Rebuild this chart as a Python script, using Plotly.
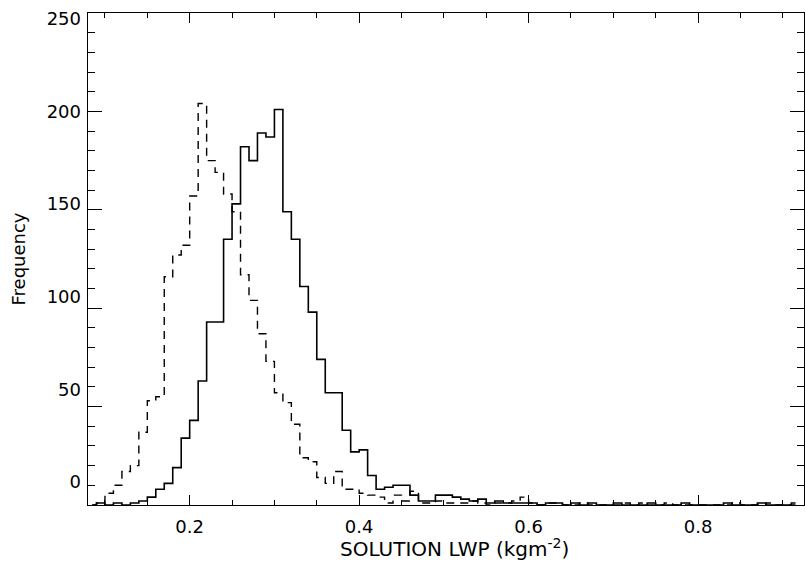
import plotly.graph_objects as go

# bin starts (width 0.01) from 0.08 to 0.91
bin_start = [round(0.08 + 0.01 * i, 2) for i in range(84)]
bin_width = 0.01

solid_counts = [
    0, 1, 0, 1, 0, 1, 2, 4, 8, 11,          # 0.08-0.17
    19, 34, 43, 63, 93, 93, 135, 153, 182, 175,  # 0.18-0.27
    189, 187, 201, 149, 135, 111, 98, 74, 57, 57,  # 0.28-0.37
    38, 27, 28, 15, 8, 9, 10, 10, 5, 2,      # 0.38-0.47
    2, 5, 5, 4, 3, 2, 3, 1, 2, 1,            # 0.48-0.57
    1, 1, 1, 0, 1, 1, 0, 1, 0, 1,            # 0.58-0.67
    0, 0, 1, 0, 0, 0, 1, 0, 0, 0,            # 0.68-0.77
    1, 0, 0, 0, 0, 1, 0, 0, 0, 1,            # 0.78-0.87
    0, 0, 0, 1,                              # 0.88-0.91
]

dashed_counts = [
    0, 1, 6, 10, 17, 20, 37, 53, 55, 116,    # 0.08-0.17
    127, 132, 157, 204, 175, 169, 158, 149, 117, 104,  # 0.18-0.27
    87, 73, 57, 52, 41, 24, 22, 14, 11, 17,  # 0.28-0.37
    8, 8, 6, 5, 4, 1, 5, 2, 7, 1,            # 0.38-0.47
    1, 2, 1, 1, 1, 2, 1, 0, 1, 1,            # 0.48-0.57
    2, 4, 1, 0, 1, 1, 0, 0, 1, 0,            # 0.58-0.67
    0, 0, 0, 1, 0, 1, 0, 0, 1, 0,            # 0.68-0.77
    0, 0, 0, 0, 0, 0, 1, 0, 0, 0,            # 0.78-0.87
    1, 0, 0, 0,                              # 0.88-0.91
]

y_tick_values = [0, 50, 100, 150, 200, 250]
x_title = "SOLUTION LWP (kgm<sup>-2</sup>)"
y_title = "Frequency"

centers = [b + bin_width / 2 for b in bin_start]

font = "DejaVu Sans, Liberation Sans, Arial, sans-serif"

fig = go.Figure()
fig.add_trace(go.Scatter(
    x=centers, y=dashed_counts, mode="lines", line_shape="hvh",
    line=dict(color="black", width=1.4, dash="8px,6px"), showlegend=False,
))
fig.add_trace(go.Scatter(
    x=centers, y=solid_counts, mode="lines", line_shape="hvh",
    line=dict(color="black", width=1.6), showlegend=False,
))
# invisible anchor trace so the label-only overlay axis is drawn
fig.add_trace(go.Scatter(
    x=[centers[0]], y=[0], yaxis="y2", mode="markers",
    marker=dict(opacity=0), hoverinfo="skip", showlegend=False,
))

fig.update_layout(
    width=805, height=563,
    margin=dict(l=88, r=1, t=13, b=58),
    paper_bgcolor="white", plot_bgcolor="white",
    font=dict(family=font, size=18, color="black"),
    xaxis=dict(
        range=[0.08, 0.925], showgrid=False, zeroline=False, automargin=False,
        showline=True, linecolor="black", linewidth=1, mirror="ticks",
        ticks="inside", ticklen=10, tickwidth=1, tickcolor="black",
        tick0=0.2, dtick=0.2, tickformat=".1f",
        minor=dict(ticks="inside", ticklen=5, dtick=0.05, tick0=0.0, tickcolor="black", showgrid=False),
        ticklabelstandoff=5,
    ),
    yaxis=dict(
        range=[0, 250], showgrid=False, zeroline=False, automargin=False,
        showline=True, linecolor="black", linewidth=1, mirror="ticks",
        ticks="inside", ticklen=14, tickwidth=1, tickcolor="black",
        tick0=0, dtick=50, showticklabels=False,
        minor=dict(ticks="inside", ticklen=7, dtick=10, tickcolor="black", showgrid=False),
        title=dict(text=y_title, font=dict(size=18), standoff=56),
    ),
    # labels in the reference sit on a slightly compressed scale relative to the ticks
    yaxis2=dict(
        overlaying="y", side="left", range=[-12.4, 252.96],
        showgrid=False, zeroline=False, showline=False, automargin=False,
        ticks="", tickmode="array", tickvals=y_tick_values,
        ticklabelstandoff=6,
    ),
    annotations=[dict(
        text=x_title, xref="paper", yref="paper", x=0.5, y=0,
        xshift=8, yshift=-43, xanchor="center", yanchor="middle",
        showarrow=False, font=dict(size=20, family=font, color="black"),
    )],
)

fig.write_html(
    "out.html",
    config={"displayModeBar": False},
    post_script="document.body.style.margin='0';",
)
